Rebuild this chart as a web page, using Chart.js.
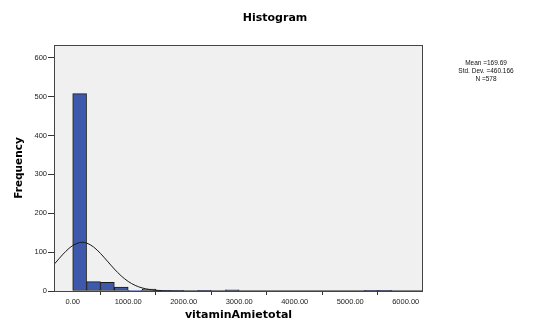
<!DOCTYPE html>
<html>
<head>
<meta charset="utf-8">
<script src="https://cdn.jsdelivr.net/npm/chart.js@4/dist/chart.umd.min.js"></script>
<style>
html,body{margin:0;padding:0;background:#fff;}
#wrap{width:535px;height:322px;position:relative;}
</style>
</head>
<body>
<div id="wrap"><canvas id="c"></canvas></div>
<script>
// ---- data ----
const binCenters = [125,375,625,875,1125,1375,1625,1875,2125,2375,2625,2875,3125,3375,3625,3875,4125,4375,4625,4875,5125,5375,5625,5875];
const binCounts  = [508,24,22,10,2,5,1,1,0,1,0,3,0,0,0,0,0,0,0,0,0,1,1,0];
const curveX = [-337,-250,-125,0,125,170,250,375,500,625,750,875,1000,1125,1250,1375,1500,1625,1750,2000,2500,6312];
const curveY = [68.3,82.6,102,117,124.7,125.3,123.4,113.4,96.8,76.8,56.6,38.7,24.6,14.5,7.95,4.05,1.92,0.84,0.34,0.05,0,0];
const xTickValues = [0,1000,2000,3000,4000,5000,6000];
const yTickValues = [0,100,200,300,400,500,600];
const statsLines = ['Mean =169.69','Std. Dev. =460.166','N =578'];
const chartTitle = 'Histogram';
const xTitle = 'vitaminAmietotal';
const yTitle = 'Frequency';

const barData = binCenters.map((x,i)=>({x:x,y:binCounts[i]}));
const lineData = curveX.map((x,i)=>({x:x,y:curveY[i]}));

const framePlugin = {
  id:'frame',
  beforeDatasetsDraw(chart){
    const {ctx, chartArea:a} = chart;
    ctx.save();
    ctx.fillStyle = '#F0F0F0';
    ctx.fillRect(a.left, a.top, a.right-a.left, a.bottom-a.top);
    ctx.restore();
  },
  afterDraw(chart){
    const {ctx, chartArea:a} = chart;
    ctx.save();
    ctx.strokeStyle = '#444';
    ctx.lineWidth = 1;
    ctx.strokeRect(Math.round(a.left)+0.5, Math.round(a.top)+0.5, Math.round(a.right-a.left)-1, Math.round(a.bottom-a.top));
    // title
    ctx.fillStyle = '#000';
    ctx.font = 'bold 11px "DejaVu Sans"';
    ctx.textAlign = 'center';
    ctx.textBaseline = 'middle';
    ctx.fillText(chartTitle, 275, 18);
    // stats
    ctx.fillStyle = '#111';
    ctx.font = '6.5px "Liberation Sans"';
    const ys = [63.5, 71.5, 79];
    statsLines.forEach((t,i)=>ctx.fillText(t, 486, ys[i]));
    ctx.restore();
  }
};

new Chart(document.getElementById('c'), {
  type:'bar',
  data:{
    datasets:[
      {type:'line', data:lineData, borderColor:'#1a1a1a', borderWidth:1, pointRadius:0, fill:false, cubicInterpolationMode:'monotone', order:0},
      {type:'bar', data:barData, backgroundColor:'#3E58AC', borderColor:'#1a1a1a', borderWidth:1, borderSkipped:false, barPercentage:1, categoryPercentage:1, order:1}
    ]
  },
  options:{
    responsive:true,
    maintainAspectRatio:false,
    animation:false,
    layout:{padding:{top:45,right:112,left:0,bottom:0}},
    plugins:{legend:{display:false}, tooltip:{enabled:false}, title:{display:false}},
    scales:{
      x:{
        type:'linear', min:-337, max:6312, offset:false,
        afterBuildTicks(s){ s.ticks = xTickValues.map(v=>({value:v})); },
        afterFit(s){ s.height = 31; },
        ticks:{callback:v=>Number(v).toFixed(2), font:{family:'"Liberation Sans"', size:7.5}, color:'#222', padding:2, maxRotation:0, autoSkip:false},
        grid:{display:true, drawOnChartArea:false, drawTicks:true, tickLength:4, color:'#333'},
        border:{display:false},
        title:{display:true, text:xTitle, font:{family:'"DejaVu Sans"', size:11, weight:'bold'}, color:'#000', padding:{top:0,bottom:0}}
      },
      y:{
        min:0, max:633,
        afterBuildTicks(s){ s.ticks = yTickValues.map(v=>({value:v})); },
        afterFit(s){ s.width = 54; },
        ticks:{font:{family:'"Liberation Sans"', size:7.5}, color:'#222', padding:1, autoSkip:false},
        grid:{display:true, drawOnChartArea:false, drawTicks:true, tickLength:6, color:'#333'},
        border:{display:false},
        title:{display:true, text:yTitle, font:{family:'"DejaVu Sans"', size:10.5, weight:'bold'}, color:'#000', padding:{top:13,bottom:0}}
      }
    }
  },
  plugins:[framePlugin]
});
</script>
</body>
</html>
